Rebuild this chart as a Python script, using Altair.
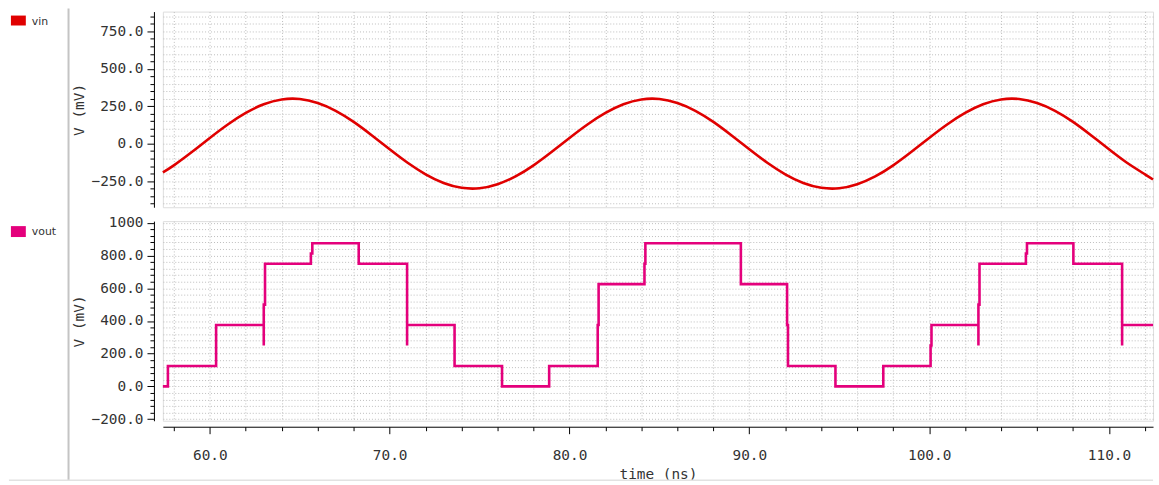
import altair as alt
import pandas as pd

# ---------------- data ----------------
vin_t = [57.39, 58, 59, 60, 61, 62, 63, 64, 65, 66, 67, 68, 69, 70, 71, 72, 73, 74, 75, 76, 77, 78, 79,
         80, 81, 82, 83, 84, 85, 86, 87, 88, 89, 90, 91, 92, 93, 94, 95, 96, 97, 98, 99,
         100, 101, 102, 103, 104, 105, 106, 107, 108, 109, 110, 111, 112, 112.45]
vin_v = [-192, -145, -56, 38, 128, 205, 263, 295, 298, 271, 219, 145, 56, -38, -128, -205, -263, -295, -298, -271, -219, -145, -56,
         38, 128, 205, 263, 295, 298, 271, 219, 145, 56, -38, -128, -205, -263, -295, -298, -271, -219, -145, -56,
         38, 128, 205, 263, 295, 298, 271, 219, 145, 56, -38, -128, -205, -240]

vout_t = [57.39, 57.67, 57.67, 60.35, 60.35, 63.0, 63.0, 63.0, 63.07, 63.07, 65.62, 65.62, 65.7, 65.7,
          68.28, 68.28, 70.97, 70.97, 70.97, 73.61, 73.61, 76.25, 76.25, 78.87, 78.87, 81.57, 81.57,
          81.62, 81.62, 84.17, 84.17, 84.22, 84.22, 89.53, 89.53, 92.1, 92.1, 92.15, 92.15, 94.79, 94.79,
          97.45, 97.45, 100.08, 100.08, 100.13, 100.13, 102.74, 102.74, 102.74, 102.8, 102.8, 105.38, 105.38,
          105.44, 105.44, 108.02, 108.02, 110.73, 110.73, 110.73, 112.45]
vout_v = [0, 0, 125, 125, 375, 375, 250, 500, 500, 750, 750, 812, 812, 875,
          875, 750, 750, 250, 375, 375, 125, 125, 0, 0, 125, 125, 375,
          375, 625, 625, 750, 750, 875, 875, 625, 625, 375, 375, 125, 125, 0,
          0, 125, 125, 250, 250, 375, 375, 250, 500, 500, 750, 750, 812,
          812, 875, 875, 750, 750, 250, 375, 375]

series_names = ["vin", "vout"]
series_colors = ["#e00000", "#e4007c"]

x_domain = [57.39, 112.45]
x_tick_values = list(range(58, 113, 2))
top_domain = [-425, 882]
top_tick_values = list(range(-400, 851, 50))
bot_domain = [-210, 1010]
bot_tick_values = list(range(-200, 1001, 40))

# ---------------- layout constants ----------------
W = 997
H_TOP = 197
H_BOT = 201
PLOT_LEFT = 162
TOP_Y = 11
BOT_Y = 222
MONO = "DejaVu Sans Mono"
FS = 14.5
TXT = "#333333"
GRID = "#bdbdbd"

vin_df = pd.DataFrame({"t": vin_t, "v": vin_v})
vout_df = pd.DataFrame({"t": vout_t, "v": vout_v, "i": list(range(len(vout_t)))})

major_tick = {"condition": {"test": "datum.value % 10 === 0", "value": 7}, "value": 4}


def x_axis(show):
    if show:
        return alt.Axis(values=x_tick_values, grid=True, gridColor=GRID, gridDash=[1, 2],
                        labelExpr="datum.value % 10 === 0 ? format(datum.value, '.1f') : ''",
                        tickSize=major_tick, tickColor="black", domainColor="black",
                        offset=6, labelFont=MONO, labelFontSize=FS, labelColor=TXT,
                        labelPadding=15, labelFlush=False, title="time (ns)", titleFont=MONO,
                        titleFontSize=FS, titleFontWeight="normal", titleColor=TXT, titlePadding=6)
    return alt.Axis(values=x_tick_values, grid=True, gridColor=GRID, gridDash=[1, 2],
                    labels=False, ticks=False, domain=False, title="")


def y_axis(values, major, expr):
    return alt.Axis(values=values, grid=True, gridColor=GRID, gridDash=[1, 2],
                    labelExpr=expr,
                    tickSize={"condition": {"test": "datum.value %% %d === 0" % major, "value": 7}, "value": 4},
                    tickColor="black", domainColor="black", offset=9,
                    labelFont=MONO, labelFontSize=FS, labelColor=TXT, labelPadding=4,
                    title="V (mV)", titleFont=MONO, titleFontSize=FS, titleFontWeight="normal",
                    titleColor=TXT, titlePadding=5)


def legend(name, color, top):
    d = pd.DataFrame({"name": [name]})
    sq = alt.Chart(d).mark_rect(color=color).encode(
        x=alt.value(9 - PLOT_LEFT), x2=alt.value(24 - PLOT_LEFT),
        y=alt.value(top[0]), y2=alt.value(top[1]))
    tx = alt.Chart(d).mark_text(align="left", baseline="middle", font="DejaVu Sans",
                                fontSize=11, color="#333333").encode(
        x=alt.value(30 - PLOT_LEFT), y=alt.value(top[2]), text="name:N")
    return sq + tx


top_line = alt.Chart(vin_df).mark_line(color=series_colors[0], strokeWidth=2.6, interpolate="natural").encode(
    x=alt.X("t:Q", scale=alt.Scale(domain=x_domain, nice=False, zero=False), axis=x_axis(False)),
    y=alt.Y("v:Q", scale=alt.Scale(domain=top_domain, nice=False, zero=False),
            axis=y_axis(top_tick_values, 250,
                        "datum.value % 250 === 0 ? format(datum.value, '.1f') : ''")),
)

sep = alt.Chart(pd.DataFrame({"name": ["sep"]})).mark_rule(color="#c4c4c4", strokeWidth=2).encode(
    x=alt.value(67 - PLOT_LEFT), y=alt.value(8 - TOP_Y), y2=alt.value(483 - TOP_Y))

top = alt.layer(top_line, legend(series_names[0], series_colors[0], (15 - TOP_Y, 25 - TOP_Y, 21 - TOP_Y)), sep).properties(
    width=W, height=H_TOP)

bot_line = alt.Chart(vout_df).mark_line(color=series_colors[1], strokeWidth=2.6).encode(
    x=alt.X("t:Q", scale=alt.Scale(domain=x_domain, nice=False, zero=False), axis=x_axis(True)),
    y=alt.Y("v:Q", scale=alt.Scale(domain=bot_domain, nice=False, zero=False),
            axis=y_axis(bot_tick_values, 200,
                        "datum.value % 200 === 0 ? (datum.value === 1000 ? '1000' : format(datum.value, '.1f')) : ''")),
    order=alt.Order("i:Q"),
)

base_line = alt.Chart(pd.DataFrame({"name": ["base"]})).mark_rule(color="#e2e2e2", strokeWidth=1.5).encode(
    x=alt.value(7 - PLOT_LEFT), x2=alt.value(W), y=alt.value(483 - BOT_Y))

bot = alt.layer(bot_line, legend(series_names[1], series_colors[1], (227 - BOT_Y, 238 - BOT_Y, 233 - BOT_Y)), base_line).properties(
    width=W, height=H_BOT)

chart = alt.vconcat(top, bot, spacing=BOT_Y - TOP_Y - H_TOP, bounds="flush").properties(
    padding={"left": 7, "top": 5, "right": 0, "bottom": 0}
).configure_view(stroke=None).configure(background="white")

chart.save("out.html", embed_options={"renderer": "svg", "actions": False})
